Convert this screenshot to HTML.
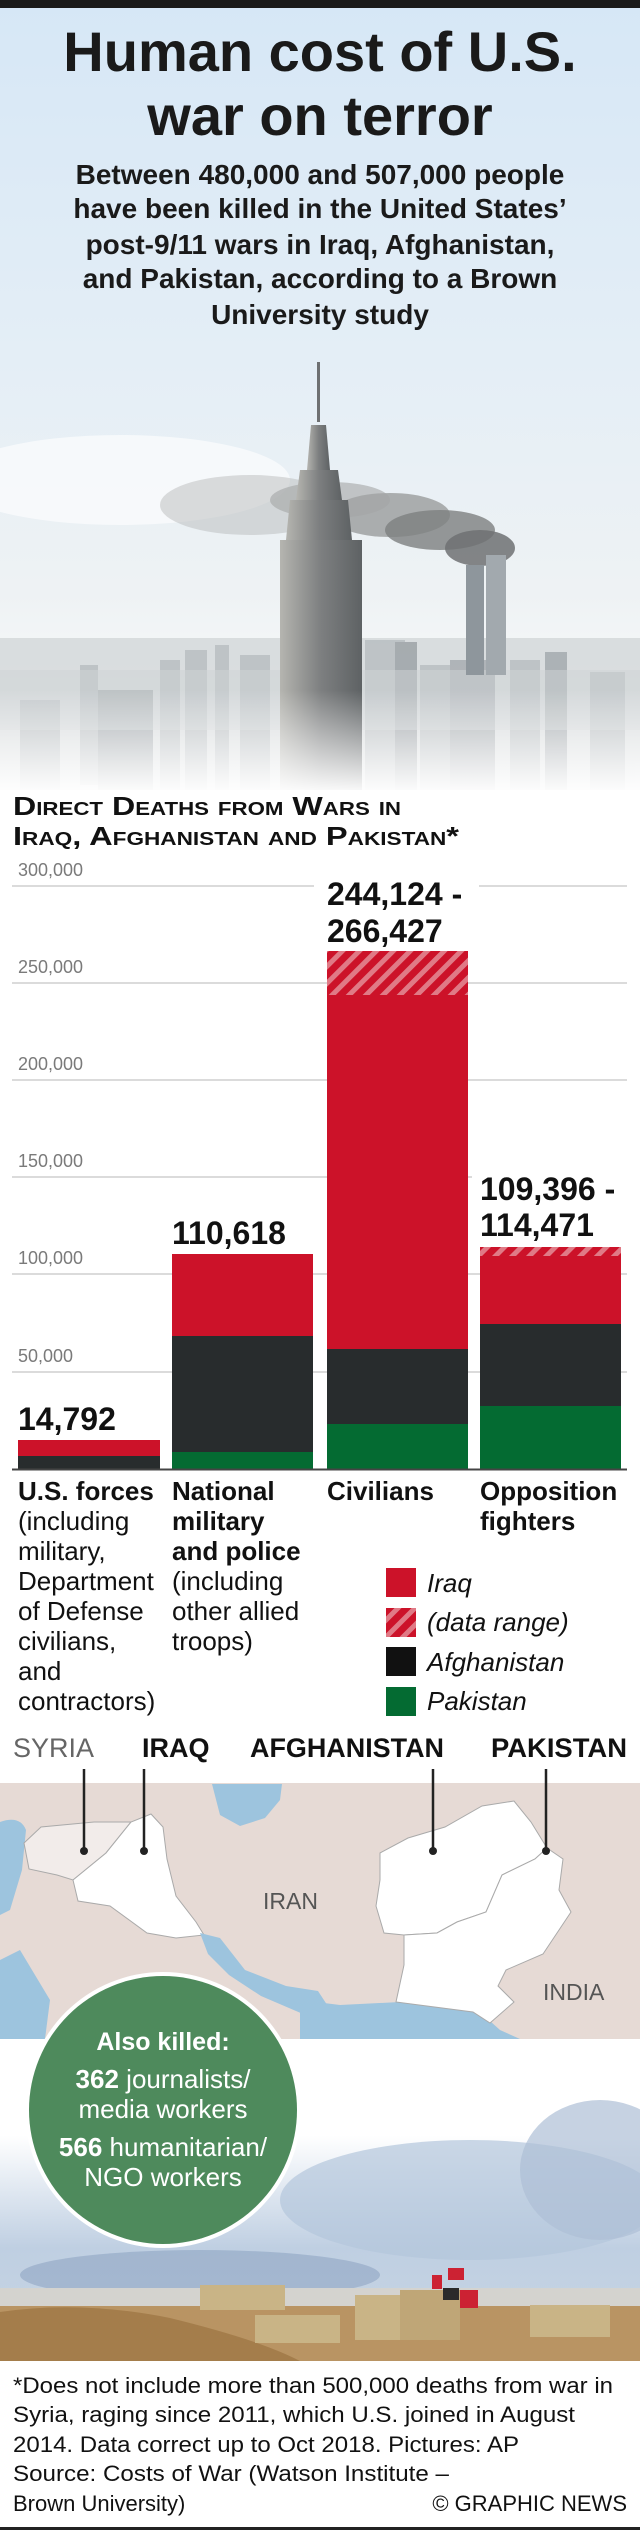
<!DOCTYPE html>
<html><head><meta charset="utf-8"><style>
html,body{margin:0;padding:0;background:#fff;width:640px;height:2530px;overflow:hidden}
svg{display:block}
</style></head><body>
<svg width="640" height="2530" viewBox="0 0 640 2530" xmlns="http://www.w3.org/2000/svg" font-family="Liberation Sans, Arial, sans-serif">
<defs>
<linearGradient id="sky" x1="0" y1="0" x2="0" y2="1">
<stop offset="0" stop-color="#d6e7f6"/><stop offset="0.45" stop-color="#e4eef6"/><stop offset="0.75" stop-color="#eef2f4"/><stop offset="1" stop-color="#ffffff"/>
</linearGradient>
<linearGradient id="fade" x1="0" y1="0" x2="0" y2="1">
<stop offset="0" stop-color="#fff" stop-opacity="0"/><stop offset="1" stop-color="#fff" stop-opacity="1"/>
</linearGradient>
<linearGradient id="esb" x1="0" y1="0" x2="1" y2="0">
<stop offset="0" stop-color="#b5b5b0"/><stop offset="0.5" stop-color="#7d7f80"/><stop offset="1" stop-color="#5e6264"/>
</linearGradient>
<linearGradient id="sky2" x1="0" y1="0" x2="0" y2="1">
<stop offset="0" stop-color="#ffffff"/><stop offset="0.3" stop-color="#ffffff"/><stop offset="0.65" stop-color="#bfcfe2"/><stop offset="1" stop-color="#c9d6e4"/>
</linearGradient>
<pattern id="hatch" width="12" height="12" patternUnits="userSpaceOnUse" patternTransform="rotate(45)">
<rect width="12" height="12" fill="#cc1229"/><rect width="5" height="12" fill="#e07a86"/>
</pattern>
</defs>

<rect x="0" y="0" width="640" height="790" fill="url(#sky)"/>
<rect x="0" y="0" width="640" height="8" fill="#1a1a1a"/>
<ellipse cx="120" cy="480" rx="170" ry="45" fill="#fff" opacity="0.6"/>
<ellipse cx="250" cy="505" rx="90" ry="30" fill="#b9bbbb" opacity="0.5"/>
<ellipse cx="390" cy="515" rx="60" ry="22" fill="#8f9090" opacity="0.7"/>
<ellipse cx="440" cy="530" rx="55" ry="20" fill="#7d7f80" opacity="0.8"/>
<ellipse cx="480" cy="548" rx="35" ry="18" fill="#6f7172" opacity="0.85"/>
<ellipse cx="330" cy="500" rx="60" ry="18" fill="#a3a5a5" opacity="0.6"/>
<g fill="#a8aeb2" opacity="0.7">
<rect x="0" y="638" width="640" height="152" fill="#cfd3d5"/>
<rect x="80" y="665" width="18" height="120"/><rect x="98" y="690" width="55" height="100" fill="#8d9499"/>
<rect x="160" y="660" width="20" height="130"/><rect x="185" y="650" width="22" height="140"/>
<rect x="215" y="645" width="14" height="145"/><rect x="240" y="655" width="30" height="135"/>
<rect x="365" y="640" width="40" height="150"/><rect x="395" y="642" width="22" height="148" fill="#868d92"/>
<rect x="420" y="665" width="30" height="125"/><rect x="450" y="660" width="45" height="130" fill="#93999e"/>
<rect x="510" y="660" width="30" height="130"/><rect x="545" y="652" width="22" height="138" fill="#8f969b"/>
<rect x="590" y="672" width="35" height="118"/><rect x="20" y="700" width="40" height="90"/>
<rect x="0" y="670" width="640" height="60" fill="#c0c5c8" opacity="0.5"/>
</g>
<rect x="466" y="565" width="18" height="110" fill="#8e969c"/>
<rect x="486" y="555" width="20" height="120" fill="#a2a9ae"/>
<rect x="317" y="362" width="3" height="60" fill="#6e7072"/>
<polygon points="311,425 326,425 330,470 307,470" fill="url(#esb)"/>
<polygon points="300,470 338,470 342,500 296,500" fill="url(#esb)"/>
<polygon points="290,500 348,500 352,540 286,540" fill="url(#esb)"/>
<rect x="280" y="540" width="82" height="250" fill="url(#esb)"/>
<rect x="0" y="690" width="640" height="105" fill="url(#fade)"/>
<rect x="0" y="790" width="640" height="10" fill="#fff"/>

<g text-anchor="middle" font-weight="bold" fill="#1a1a1a">
<text x="320" y="71" font-size="56">Human cost of U.S.</text>
<text x="320" y="135" font-size="56">war on terror</text>
<g font-size="28">
<text x="320" y="184">Between 480,000 and 507,000 people</text>
<text x="320" y="218">have been killed in the United States’</text>
<text x="320" y="254">post-9/11 wars in Iraq, Afghanistan,</text>
<text x="320" y="288">and Pakistan, according to a Brown</text>
<text x="320" y="324">University study</text>
</g></g>

<g font-weight="bold" fill="#111" font-size="26" style="font-variant:small-caps">
<text x="13" y="815" textLength="388" lengthAdjust="spacingAndGlyphs">Direct Deaths from Wars in</text>
<text x="13" y="845" textLength="446" lengthAdjust="spacingAndGlyphs">Iraq, Afghanistan and Pakistan*</text>
</g>

<g stroke="#cfcfcf" stroke-width="1.5">
<line x1="12" y1="886" x2="627" y2="886"/><line x1="12" y1="983" x2="627" y2="983"/>
<line x1="12" y1="1080" x2="627" y2="1080"/><line x1="12" y1="1177" x2="627" y2="1177"/>
<line x1="12" y1="1274" x2="627" y2="1274"/><line x1="12" y1="1372" x2="627" y2="1372"/>
</g>
<g fill="#7a7a7a" font-size="18">
<text x="18" y="876">300,000</text><text x="18" y="973">250,000</text>
<text x="18" y="1070">200,000</text><text x="18" y="1167">150,000</text>
<text x="18" y="1264">100,000</text><text x="18" y="1362">50,000</text>
</g>
<rect x="314" y="870" width="165" height="78" fill="#fff"/>
<rect x="472" y="1165" width="155" height="78" fill="#fff"/>

<rect x="18" y="1440" width="142" height="16" fill="#cc1229"/>
<rect x="18" y="1456" width="142" height="13" fill="#282c2d"/>
<rect x="172" y="1254" width="141" height="82" fill="#cc1229"/>
<rect x="172" y="1336" width="141" height="116" fill="#282c2d"/>
<rect x="172" y="1452" width="141" height="17" fill="#046b32"/>
<rect x="327" y="951" width="141" height="44" fill="url(#hatch)"/>
<rect x="327" y="995" width="141" height="354" fill="#cc1229"/>
<rect x="327" y="1349" width="141" height="75" fill="#282c2d"/>
<rect x="327" y="1424" width="141" height="45" fill="#046b32"/>
<rect x="480" y="1247" width="141" height="9" fill="url(#hatch)"/>
<rect x="480" y="1256" width="141" height="68" fill="#cc1229"/>
<rect x="480" y="1324" width="141" height="82" fill="#282c2d"/>
<rect x="480" y="1406" width="141" height="63" fill="#046b32"/>
<line x1="12" y1="1469.5" x2="627" y2="1469.5" stroke="#444" stroke-width="2"/>

<g font-weight="bold" font-size="32" fill="#111">
<text x="18" y="1430">14,792</text>
<text x="172" y="1244">110,618</text>
<text x="327" y="905">244,124 -</text><text x="327" y="942">266,427</text>
<text x="480" y="1200">109,396 -</text><text x="480" y="1236">114,471</text>
</g>

<g font-size="26" fill="#111">
<text x="18" y="1500" font-weight="bold">U.S. forces</text>
<text x="18" y="1530">(including</text><text x="18" y="1560">military,</text>
<text x="18" y="1590">Department</text><text x="18" y="1620">of Defense</text>
<text x="18" y="1650">civilians,</text><text x="18" y="1680">and</text>
<text x="18" y="1710">contractors)</text>
<text x="172" y="1500" font-weight="bold">National</text>
<text x="172" y="1530" font-weight="bold">military</text>
<text x="172" y="1560" font-weight="bold">and police</text>
<text x="172" y="1590">(including</text><text x="172" y="1620">other allied</text>
<text x="172" y="1650">troops)</text>
<text x="327" y="1500" font-weight="bold">Civilians</text>
<text x="480" y="1500" font-weight="bold">Opposition</text>
<text x="480" y="1530" font-weight="bold">fighters</text>
</g>
<rect x="386" y="1568" width="30" height="29" fill="#cc1229"/>
<rect x="386" y="1608" width="30" height="29" fill="url(#hatch)"/>
<rect x="386" y="1647" width="30" height="29" fill="#111"/>
<rect x="386" y="1687" width="30" height="29" fill="#046b32"/>
<g font-size="26" font-style="italic" fill="#111">
<text x="427" y="1592">Iraq</text><text x="427" y="1631">(data range)</text>
<text x="427" y="1671">Afghanistan</text><text x="427" y="1710">Pakistan</text>
</g>

<rect x="0" y="1783" width="640" height="256" fill="#e6dad5"/>
<path d="M0,1822 Q20,1815 26,1830 L22,1870 L10,1910 L0,1915 Z" fill="#9dc4de"/>
<path d="M0,1960 L20,1950 L50,2000 L45,2039 L0,2039 Z" fill="#9dc4de"/>
<path d="M212,1784 L282,1784 L280,1800 L265,1818 L240,1826 L220,1815 Z" fill="#9dc4de"/>
<polygon points="24,1843 41,1827 94,1822 131,1822 106,1853 73,1880 57,1875 29,1869" fill="#f2ecea" stroke="#aaa" stroke-width="1"/>
<polygon points="73,1880 106,1853 131,1822 151,1814 163,1827 167,1859 176,1896 196,1922 204,1935 176,1938 147,1933 110,1906 78,1901" fill="#fff" stroke="#aaa" stroke-width="1"/>
<polygon points="200,1933 220,1938 245,1970 286,1986 318,1991 335,2017 310,2017 261,1996 229,1975 208,1954" fill="#9dc4de"/>
<path d="M300,2000 L340,2005 L400,2002 L480,2012 L500,2030 L520,2039 L300,2039 Z" fill="#9dc4de"/>
<polygon points="380,1853 408,1838 445,1827 482,1806 514,1801 531,1822 547,1848 535,1859 502,1875 486,1912 457,1922 437,1933 404,1935 384,1933 376,1906 380,1880" fill="#fff" stroke="#aaa" stroke-width="1"/>
<polygon points="547,1848 563,1859 559,1890 571,1912 543,1954 506,1970 498,1986 514,2002 490,2023 473,2012 396,2002 404,1965 404,1935 437,1933 457,1922 486,1912 502,1875 535,1859" fill="#fff" stroke="#aaa" stroke-width="1"/>
<g fill="#555" font-size="23">
<text x="263" y="1909">IRAN</text><text x="543" y="2000">INDIA</text>
</g>
<rect x="0" y="1765" width="640" height="18" fill="#fff"/>
<g stroke="#222" stroke-width="2.5">
<line x1="84" y1="1769" x2="84" y2="1851"/><line x1="144" y1="1769" x2="144" y2="1851"/>
<line x1="433" y1="1769" x2="433" y2="1851"/><line x1="546" y1="1769" x2="546" y2="1851"/>
</g>
<g fill="#222"><circle cx="84" cy="1851" r="4"/><circle cx="144" cy="1851" r="4"/><circle cx="433" cy="1851" r="4"/><circle cx="546" cy="1851" r="4"/></g>
<g font-size="27">
<text x="13" y="1757" fill="#666">SYRIA</text>
<g font-weight="bold" fill="#111">
<text x="142" y="1757">IRAQ</text><text x="250" y="1757" textLength="194" lengthAdjust="spacingAndGlyphs">AFGHANISTAN</text>
<text x="491" y="1757" textLength="136" lengthAdjust="spacingAndGlyphs">PAKISTAN</text>
</g></g>

<rect x="0" y="2039" width="640" height="322" fill="url(#sky2)"/>
<ellipse cx="470" cy="2200" rx="190" ry="60" fill="#b4c6dc" opacity="0.7"/>
<ellipse cx="600" cy="2170" rx="80" ry="70" fill="#aebfd6" opacity="0.7"/>
<ellipse cx="200" cy="2275" rx="180" ry="25" fill="#8fa5c3" opacity="0.6"/>
<rect x="0" y="2288" width="640" height="20" fill="#d4d3cf"/>
<rect x="0" y="2306" width="640" height="55" fill="#b99463"/>
<path d="M0,2312 Q80,2300 170,2318 Q260,2340 300,2361 L0,2361 Z" fill="#a47d4b"/>
<g fill="#c9b486">
<rect x="200" y="2285" width="85" height="25"/><rect x="255" y="2315" width="85" height="28"/>
<rect x="355" y="2295" width="55" height="45"/><rect x="400" y="2290" width="60" height="50" fill="#bfa677"/>
<rect x="530" y="2305" width="80" height="32"/>
</g>
<rect x="443" y="2288" width="16" height="12" fill="#2a2a2a"/>
<rect x="448" y="2268" width="16" height="12" fill="#cc2233"/>
<rect x="432" y="2275" width="10" height="14" fill="#cc2233"/>
<rect x="460" y="2290" width="18" height="18" fill="#cc2233"/>

<circle cx="163" cy="2110" r="138" fill="#fff"/>
<circle cx="163" cy="2110" r="134" fill="#4e8a5c"/>
<g fill="#fff" text-anchor="middle" font-size="26">
<text x="163" y="2050" font-weight="bold" font-size="25">Also killed:</text>
<text x="163" y="2088"><tspan font-weight="bold">362</tspan> journalists/</text>
<text x="163" y="2118">media workers</text>
<text x="163" y="2156"><tspan font-weight="bold">566</tspan> humanitarian/</text>
<text x="163" y="2186">NGO workers</text>
</g>

<g font-size="22" fill="#111">
<text x="13" y="2393" textLength="600" lengthAdjust="spacingAndGlyphs">*Does not include more than 500,000 deaths from war in</text>
<text x="13" y="2422" textLength="562" lengthAdjust="spacingAndGlyphs">Syria, raging since 2011, which U.S. joined in August</text>
<text x="13" y="2452" textLength="506" lengthAdjust="spacingAndGlyphs">2014. Data correct up to Oct 2018. Pictures: AP</text>
<text x="13" y="2481" textLength="436" lengthAdjust="spacingAndGlyphs">Source: Costs of War (Watson Institute –</text>
<text x="13" y="2511">Brown University)</text>
<text x="627" y="2511" text-anchor="end">© GRAPHIC NEWS</text>
</g>
<rect x="0" y="2527" width="640" height="3" fill="#222"/>
</svg>
</body></html>
